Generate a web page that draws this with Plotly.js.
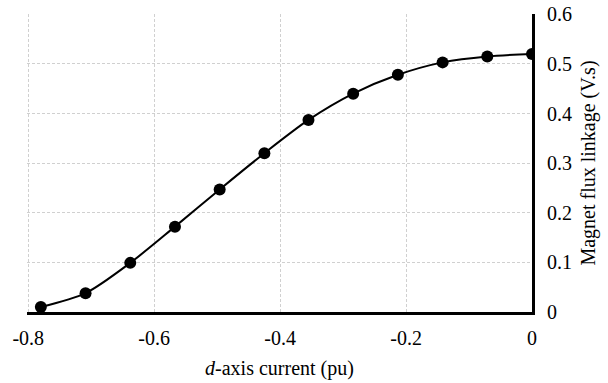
<!DOCTYPE html>
<html><head><meta charset="utf-8">
<script src="https://cdn.plot.ly/plotly-3.0.1.min.js"></script>
<style>html,body{margin:0;padding:0;background:#fff}#c{width:608px;height:383px}
#c .xtick text, #c .ytick text{font-family:'Liberation Serif',serif !important;font-size:20px !important;font-weight:400 !important;}
#tick{position:absolute;left:-1000px;top:0;font:20px 'Liberation Serif'}</style>
</head><body><div id="c"></div><div id="tick">0.6</div>
<script>
const currentPu = [-0.78, -0.709, -0.638, -0.567, -0.496, -0.425, -0.355, -0.284, -0.213, -0.142, -0.071, 0];
const fluxLinkage = [0.010, 0.038, 0.099, 0.172, 0.247, 0.320, 0.387, 0.440, 0.478, 0.503, 0.515, 0.520];
const xTickVals = [-0.8, -0.6, -0.4, -0.2, 0];
const xTickText = ['-0.8', '-0.6', '-0.4', '-0.2', '0'];
const yTickVals = [0, 0.1, 0.2, 0.3, 0.4, 0.5, 0.6];
const yTickText = ['0', '0.1', '0.2', '0.3', '0.4', '0.5', '0.6'];

const font = {family: 'Liberation Serif', size: 20, color: '#000'};
function draw() {
  return Plotly.newPlot('c', [{
    x: currentPu, y: fluxLinkage, type: 'scatter', mode: 'lines+markers',
    line: {color: '#000', width: 2, shape: 'spline', smoothing: 0.8},
    marker: {color: '#000', size: 12}
  }], {
    width: 608, height: 383,
    margin: {l: 27, r: 76, t: 14, b: 71},
    paper_bgcolor: '#fff', plot_bgcolor: '#fff',
    showlegend: false, font: font,
    xaxis: {
      range: [-0.802, 0], tickmode: 'array', tickvals: xTickVals, ticktext: xTickText,
      tickfont: font,
      showline: true, linecolor: '#000', linewidth: 3, zeroline: false,
      showgrid: true, gridcolor: '#d0d0d0', griddash: '3px,2px', gridwidth: 1,
      ticks: '', ticklabelstandoff: 6,
      title: {text: '<i>d</i>-axis current (pu)', font: font, standoff: 13}
    },
    yaxis: {
      side: 'right', range: [0, 0.6005], tickmode: 'array', tickvals: yTickVals, ticktext: yTickText,
      tickfont: font,
      showline: true, linecolor: '#000', linewidth: 3, zeroline: false,
      showgrid: true, gridcolor: '#d0d0d0', griddash: '3px,2px', gridwidth: 1,
      ticks: 'outside', ticklen: 8, tickcolor: 'rgba(0,0,0,0)',
      title: {text: 'Magnet flux linkage (V.s)', font: font, standoff: 10}
    }
  }, {staticPlot: true});
}
const ready = (document.fonts && document.fonts.load) ? document.fonts.load("20px 'Liberation Serif'").catch(function(){}) : Promise.resolve();
ready.then(draw).then(function(){
  document.getElementById('tick').textContent = '0.6 ';
});
</script></body></html>
